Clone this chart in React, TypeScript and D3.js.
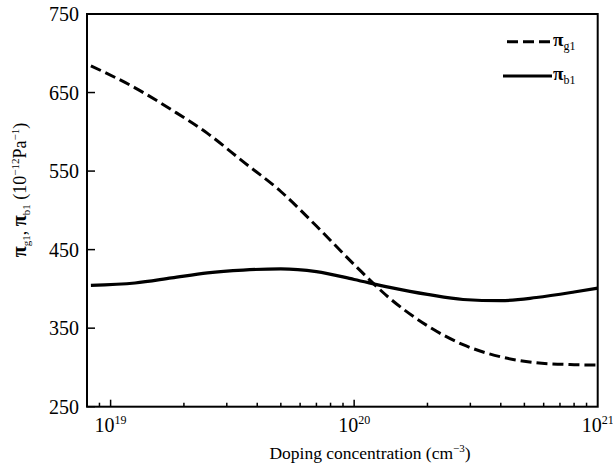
import React from 'react';
import * as d3 from 'd3';

// doping concentration (cm^-3), shared by both curves
const concentration = [8.3e18, 1.26e19, 1.78e19, 2.5e19, 3.5e19, 5e19, 7e19, 1e20, 1.4e20, 2e20, 2.8e20, 4e20, 5.6e20, 8e20, 1e21];
// pi_g1 (dashed)
const piG1 = [684, 656, 628, 598, 562, 524, 480, 431, 388, 353, 329, 313.5, 306, 303.5, 303];
// pi_b1 (solid)
const piB1 = [404.5, 407.5, 414, 420.5, 424, 425.5, 422, 412, 402, 393, 386.5, 385, 389, 396, 401];

const yTicks = [250, 350, 450, 550, 650, 750];
const xMajor = [19, 20, 21];

const W = 613;
const H = 468;
const margin = { top: 14, right: 15.3, bottom: 61.3, left: 87 };
const font = '"Liberation Serif", "Times New Roman", serif';

export default function App() {
  const x = d3.scaleLog().domain([8e18, 1e21]).range([margin.left, W - margin.right]);
  const y = d3.scaleLinear().domain([250, 750]).range([H - margin.bottom, margin.top]);

  const line = d3
    .line<[number, number]>()
    .x(d => x(d[0]))
    .y(d => y(d[1]))
    .curve(d3.curveMonotoneX);

  const gPts = concentration.map((c, i) => [c, piG1[i]] as [number, number]);
  const bPts = concentration.map((c, i) => [c, piB1[i]] as [number, number]);

  const x0 = margin.left;
  const x1 = W - margin.right;
  const y0 = H - margin.bottom;
  const y1 = margin.top;

  const minor = x.ticks().filter(t => t > x.domain()[0] && t < x.domain()[1]);

  return (
    <svg width={W} height={H} style={{ position: 'absolute', left: 0, top: 0, background: '#fff' }} fontFamily={font}>
      {/* x ticks, pointing inward */}
      {minor.map((t, i) => {
        const major = Math.abs(Math.log10(t) - Math.round(Math.log10(t))) < 1e-9;
        return (
          <line key={'xt' + i} x1={x(t)} x2={x(t)} y1={y0} y2={y0 - (major ? 7 : 4)} stroke="#000" strokeWidth={1.5} />
        );
      })}
      {/* y ticks */}
      {yTicks.map(t => (
        <line key={'yt' + t} x1={x0} x2={x0 + 8} y1={y(t)} y2={y(t)} stroke="#000" strokeWidth={1.5} />
      ))}
      {yTicks.map(t => (
        <text key={'yl' + t} x={x0 - 8} y={y(t)} dy="0.35em" textAnchor="end" fontSize={20}>
          {t}
        </text>
      ))}
      {xMajor.map(e => (
        <text key={'xl' + e} x={x(Math.pow(10, e))} y={432} textAnchor="middle" fontSize={20}>
          10
          <tspan fontSize={12} dy={-8}>{e}</tspan>
        </text>
      ))}

      {/* curves */}
      <path d={line(gPts) || ''} fill="none" stroke="#000" strokeWidth={3} strokeDasharray="11,5" />
      <path d={line(bPts) || ''} fill="none" stroke="#000" strokeWidth={3.2} />

      {/* frame */}
      <rect x={x0} y={y1} width={x1 - x0} height={y0 - y1} fill="none" stroke="#000" strokeWidth={2} />

      {/* legend */}
      <line x1={507} x2={552} y1={41.7} y2={41.7} stroke="#000" strokeWidth={3} strokeDasharray="11,5" />
      <text x={553} y={46} fontSize={19}>
        <tspan fontWeight="bold">π</tspan>
        <tspan fontSize={12} dy={4}>g1</tspan>
      </text>
      <line x1={503} x2={552} y1={76} y2={76} stroke="#000" strokeWidth={3} />
      <text x={553} y={80} fontSize={19}>
        <tspan fontWeight="bold">π</tspan>
        <tspan fontSize={12} dy={4}>b1</tspan>
      </text>

      {/* axis titles */}
      <text x={370} y={459} textAnchor="middle" fontSize={17.5}>
        Doping concentration (cm
        <tspan fontSize={11} dy={-7}>−3</tspan>
        <tspan dy={7}>)</tspan>
      </text>
      <text transform={`translate(26,${190}) rotate(-90)`} textAnchor="middle" fontSize={18}>
        <tspan fontWeight="bold" fontSize={20}>π</tspan>
        <tspan fontSize={11} dy={4}>g1</tspan>
        <tspan dy={-4}>, </tspan>
        <tspan fontWeight="bold" fontSize={20}>π</tspan>
        <tspan fontSize={11} dy={4}>b1</tspan>
        <tspan dy={-4}> (10</tspan>
        <tspan fontSize={11} dy={-7}>−12</tspan>
        <tspan dy={7}>Pa</tspan>
        <tspan fontSize={11} dy={-7}>−1</tspan>
        <tspan dy={7}>)</tspan>
      </text>
    </svg>
  );
}
